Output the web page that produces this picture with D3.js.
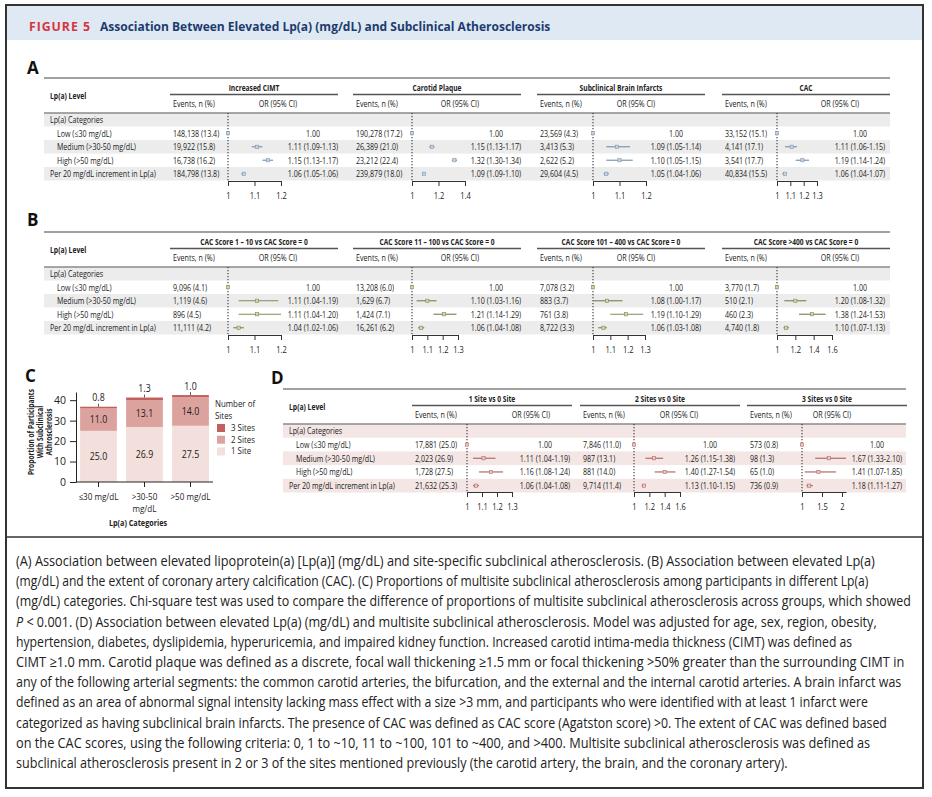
<!DOCTYPE html>
<html>
<head>
<meta charset="utf-8">
<script src="https://cdn.jsdelivr.net/npm/d3@7"></script>
<style>
  body { margin: 0; background: #fff; }
  svg { display: block; }
  text { font-family: "Open Sans", "Liberation Sans", sans-serif; }
</style>
</head>
<body>
<div id="chart"></div>
<script>
// ---- data ----
const rowLabels = ["Lp(a) Categories", "Low (≤30 mg/dL)", "Medium (>30-50 mg/dL)", "High (>50 mg/dL)", "Per 20 mg/dL increment in Lp(a)"]

// panel A
const aTitles = ["Increased CIMT", "Carotid Plaque", "Subclinical Brain Infarcts", "CAC"]
const aEvents = [
  ["148,138 (13.4)", "19,922 (15.8)", "16,738 (16.2)", "184,798 (13.8)"],
  ["190,278 (17.2)", "26,389 (21.0)", "23,212 (22.4)", "239,879 (18.0)"],
  ["23,569 (4.3)", "3,413 (5.3)", "2,622 (5.2)", "29,604 (4.5)"],
  ["33,152 (15.1)", "4,141 (17.1)", "3,541 (17.7)", "40,834 (15.5)"]
]
const aOR   = [[1.00, 1.11, 1.15, 1.06], [1.00, 1.15, 1.32, 1.09], [1.00, 1.09, 1.10, 1.05], [1.00, 1.11, 1.19, 1.06]]
const aLow  = [[1.00, 1.09, 1.13, 1.05], [1.00, 1.13, 1.30, 1.09], [1.00, 1.05, 1.05, 1.04], [1.00, 1.06, 1.14, 1.04]]
const aHigh = [[1.00, 1.13, 1.17, 1.06], [1.00, 1.17, 1.34, 1.10], [1.00, 1.14, 1.15, 1.06], [1.00, 1.15, 1.24, 1.07]]
const aTicks = [[1, 1.1, 1.2], [1, 1.2, 1.4], [1, 1.1, 1.2], [1, 1.1, 1.2, 1.3]]

// panel B
const bTitles = ["CAC Score 1 – 10 vs CAC Score = 0", "CAC Score 11 – 100 vs CAC Score = 0", "CAC Score 101 – 400 vs CAC Score = 0", "CAC Score >400 vs CAC Score = 0"]
const bEvents = [
  ["9,096 (4.1)", "1,119 (4.6)", "896 (4.5)", "11,111 (4.2)"],
  ["13,208 (6.0)", "1,629 (6.7)", "1,424 (7.1)", "16,261 (6.2)"],
  ["7,078 (3.2)", "883 (3.7)", "761 (3.8)", "8,722 (3.3)"],
  ["3,770 (1.7)", "510 (2.1)", "460 (2.3)", "4,740 (1.8)"]
]
const bOR   = [[1.00, 1.11, 1.11, 1.04], [1.00, 1.10, 1.21, 1.06], [1.00, 1.08, 1.19, 1.06], [1.00, 1.20, 1.38, 1.10]]
const bLow  = [[1.00, 1.04, 1.04, 1.02], [1.00, 1.03, 1.14, 1.04], [1.00, 1.00, 1.10, 1.03], [1.00, 1.08, 1.24, 1.07]]
const bHigh = [[1.00, 1.19, 1.20, 1.06], [1.00, 1.16, 1.29, 1.08], [1.00, 1.17, 1.29, 1.08], [1.00, 1.32, 1.53, 1.13]]
const bTicks = [[1, 1.1, 1.2], [1, 1.1, 1.2, 1.3], [1, 1.1, 1.2, 1.3], [1, 1.2, 1.4, 1.6]]

// panel C
const cCatLines = [["≤30 mg/dL"], [">30-50", "mg/dL"], [">50 mg/dL"]]
const cSite1 = [25.0, 26.9, 27.5]
const cSite2 = [11.0, 13.1, 14.0]
const cSite3 = [0.8, 1.3, 1.0]
const cYTicks = [0, 10, 20, 30, 40]
const cLegend = ["3 Sites", "2 Sites", "1 Site"]

// panel D
const dTitles = ["1 Site vs 0 Site", "2 Sites vs 0 Site", "3 Sites vs 0 Site"]
const dEvents = [
  ["17,881 (25.0)", "2,023 (26.9)", "1,728 (27.5)", "21,632 (25.3)"],
  ["7,846 (11.0)", "987 (13.1)", "881 (14.0)", "9,714 (11.4)"],
  ["573 (0.8)", "98 (1.3)", "65 (1.0)", "736 (0.9)"]
]
const dOR   = [[1.00, 1.11, 1.16, 1.06], [1.00, 1.26, 1.40, 1.13], [1.00, 1.67, 1.41, 1.18]]
const dLow  = [[1.00, 1.04, 1.08, 1.04], [1.00, 1.15, 1.27, 1.10], [1.00, 1.33, 1.07, 1.11]]
const dHigh = [[1.00, 1.19, 1.24, 1.08], [1.00, 1.38, 1.54, 1.15], [1.00, 2.10, 1.85, 1.27]]
const dTicks = [[1, 1.1, 1.2, 1.3], [1, 1.2, 1.4, 1.6], [1, 1.5, 2]]

const captionLines = [
  "(A) Association between elevated lipoprotein(a) [Lp(a)] (mg/dL) and site-specific subclinical atherosclerosis. (B) Association between elevated Lp(a)",
  "(mg/dL) and the extent of coronary artery calcification (CAC). (C) Proportions of multisite subclinical atherosclerosis among participants in different Lp(a)",
  "(mg/dL) categories. Chi-square test was used to compare the difference of proportions of multisite subclinical atherosclerosis across groups, which showed",
  "P < 0.001. (D) Association between elevated Lp(a) (mg/dL) and multisite subclinical atherosclerosis. Model was adjusted for age, sex, region, obesity,",
  "hypertension, diabetes, dyslipidemia, hyperuricemia, and impaired kidney function. Increased carotid intima-media thickness (CIMT) was defined as",
  "CIMT ≥1.0 mm. Carotid plaque was defined as a discrete, focal wall thickening ≥1.5 mm or focal thickening >50% greater than the surrounding CIMT in",
  "any of the following arterial segments: the common carotid arteries, the bifurcation, and the external and the internal carotid arteries. A brain infarct was",
  "defined as an area of abnormal signal intensity lacking mass effect with a size >3 mm, and participants who were identified with at least 1 infarct were",
  "categorized as having subclinical brain infarcts. The presence of CAC was defined as CAC score (Agatston score) >0. The extent of CAC was defined based",
  "on the CAC scores, using the following criteria: 0, 1 to ~10, 11 to ~100, 101 to ~400, and >400. Multisite subclinical atherosclerosis was defined as",
  "subclinical atherosclerosis present in 2 or 3 of the sites mentioned previously (the carotid artery, the brain, and the coronary artery)."
]
// how wide each caption line is set in the figure
const captionWidths = [860, 853, 895, 861, 837, 889, 886, 853, 872, 855, 772]

// ---- drawing ----
const width = 932
const height = 797

const svg = d3.select("#chart")
  .append("svg")
  .attr("width", width)
  .attr("height", height)

// squeeze text horizontally around its anchor x, the original font is a condensed one
function squeeze(sel, f) {
  sel.each(function () {
    const x = +this.getAttribute("x") || 0
    const prev = this.getAttribute("transform") || ""
    d3.select(this).attr("transform", `${prev} translate(${x},0) scale(${f},1) translate(${-x},0)`)
  })
}
function fit(sel, w) {
  sel.each(function () {
    squeeze(d3.select(this), w / this.getComputedTextLength())
  })
}

function txt(g, x, y, s, o = {}) {
  const t = g.append("text")
    .attr("x", x)
    .attr("y", y)
    .attr("dy", "0.35em")
    .attr("font-size", o.size || 9.6)
    .attr("font-weight", o.bold ? "bold" : null)
    .attr("text-anchor", o.anchor || "start")
    .attr("fill", o.fill || "#222")
    .text(s)
  squeeze(t, o.sq || 0.74)
  return t
}

// frame + header
svg.append("rect")
  .attr("x", 6).attr("y", 5).attr("width", 917).attr("height", 783)
  .attr("fill", "none").attr("stroke", "#333").attr("stroke-width", 2)
svg.append("rect")
  .attr("x", 7).attr("y", 6).attr("width", 915).attr("height", 34)
  .attr("fill", "#dfe9f3")
fit(svg.append("text").attr("x", 29).attr("y", 26).attr("dy", "0.35em")
  .attr("font-size", 13).attr("font-weight", "bold").attr("fill", "#d8333f")
  .attr("letter-spacing", 1)
  .text("FIGURE 5"), 62)
fit(svg.append("text").attr("x", 100).attr("y", 26).attr("dy", "0.35em")
  .attr("font-size", 13).attr("font-weight", "bold").attr("fill", "#1d3b6f")
  .text("Association Between Elevated Lp(a) (mg/dL) and Subclinical Atherosclerosis"), 451)

svg.append("line")
  .attr("x1", 6).attr("x2", 923).attr("y1", 537).attr("y2", 537)
  .attr("stroke", "#333").attr("stroke-width", 1.5)

// panel letters
;[["A", 27, 68], ["B", 27, 220], ["C", 25, 376], ["D", 271, 378]].forEach(([l, x, y]) => {
  svg.append("text").attr("x", x).attr("y", y).attr("dy", "0.35em")
    .attr("font-size", 17).attr("font-weight", "bold").attr("fill", "#111").text(l)
})

function forest(g, o) {
  const bandTop = o.top + 35
  const rowH = o.rowH
  const axisY = o.top + 103
  const rowC = i => bandTop + (i + 0.5) * rowH

  ;[0, 2, 4].forEach(i => {
    g.append("rect")
      .attr("x", o.left).attr("width", o.right - o.left)
      .attr("y", bandTop + i * rowH).attr("height", rowH)
      .attr("fill", o.shade)
  })
  g.append("line")
    .attr("x1", o.left).attr("x2", o.right).attr("y1", o.top).attr("y2", o.top)
    .attr("stroke", "#444").attr("stroke-width", 1.2)
  g.append("line")
    .attr("x1", o.left).attr("x2", o.right).attr("y1", bandTop).attr("y2", bandTop)
    .attr("stroke", "#8a8a8a").attr("stroke-width", 1.6)

  txt(g, o.left + 6, o.top + 18, "Lp(a) Level", { bold: true, size: 9.2 })
  rowLabels.forEach((l, i) => {
    txt(g, o.left + (i >= 1 && i <= 3 ? 13 : 6), rowC(i), l)
  })

  o.titles.forEach((title, j) => {
    const gx = o.gx[j]
    const ticks = o.ticks[j]
    const x = d3.scaleLinear()
      .domain([ticks[0], Math.max(ticks[ticks.length - 1], d3.max(o.hi[j]))])
      .range(o.ranges[j])

    txt(g, gx + o.gw / 2, o.top + 10, title, { bold: true, size: 9, anchor: "middle", sq: 0.74 })
    g.append("line")
      .attr("x1", gx).attr("x2", gx + o.gw).attr("y1", o.top + 16.5).attr("y2", o.top + 16.5)
      .attr("stroke", "#555").attr("stroke-width", 1.3)
    txt(g, gx + 3, o.top + 26, "Events, n (%)", { size: 9.4, sq: 0.76 })
    txt(g, o.orHeadX[j], o.top + 26, "OR (95% CI)", { size: 9.4, anchor: "middle", sq: 0.76 })

    g.append("line")
      .attr("x1", x(1)).attr("x2", x(1)).attr("y1", bandTop).attr("y2", axisY)
      .attr("stroke", "#333").attr("stroke-width", 1.1).attr("stroke-dasharray", "1.2,1.8")

    o.events[j].forEach((ev, k) => {
      const y = rowC(k + 1)
      txt(g, gx + 3, y, ev)
      const or = o.or[j][k], lo = o.lo[j][k], hi = o.hi[j][k]
      if (k > 0) {
        g.append("line")
          .attr("x1", x(lo)).attr("x2", x(hi)).attr("y1", y).attr("y2", y)
          .attr("stroke", o.color).attr("stroke-width", 1.2)
      }
      g.append("rect")
        .attr("x", x(or) - 1.6).attr("y", y - 1.6).attr("width", 3.2).attr("height", 3.2)
        .attr("fill", o.point).attr("stroke", o.color).attr("stroke-width", 0.6)
      const f = d3.format(".2f")
      const s = k === 0 ? f(or) : `${f(or)} (${f(lo)}-${f(hi)})`
      txt(g, o.orX[j], y, s, { anchor: "middle" })
    })

    const ax = g.append("g")
      .attr("transform", `translate(0,${axisY})`)
      .attr("color", "#333")
      .call(d3.axisBottom(x).tickValues(ticks).tickSize(5).tickSizeOuter(0).tickPadding(6)
        .tickFormat(d => String(d)))
    ax.select(".domain").attr("stroke-width", 1.1)
    ax.selectAll("text").attr("font-size", 9.4).attr("fill", "#222")
      .attr("font-family", "\"Open Sans\", sans-serif")
    squeeze(ax.selectAll("text"), 0.8)
  })
}

forest(svg.append("g"), {
  top: 78, left: 44, right: 890, rowH: 13.5, shade: "#ececec",
  color: "#7d96b0", point: "#c9d4df",
  titles: aTitles, events: aEvents, or: aOR, lo: aLow, hi: aHigh, ticks: aTicks,
  gx: [170, 353, 537, 722], gw: 168,
  ranges: [[228, 281], [412, 465], [593, 646], [777, 817]],
  orX: [313, 496, 676, 860], orHeadX: [278, 460, 636, 840]
})

forest(svg.append("g"), {
  top: 232, left: 44, right: 890, rowH: 13.5, shade: "#ececec",
  color: "#7f8b57", point: "#d5d8a6",
  titles: bTitles, events: bEvents, or: bOR, lo: bLow, hi: bHigh, ticks: bTicks,
  gx: [170, 353, 537, 722], gw: 168,
  ranges: [[228, 281], [412, 458], [593, 645], [777, 832]],
  orX: [313, 496, 676, 860], orHeadX: [278, 460, 636, 840]
})

forest(svg.append("g"), {
  top: 389, left: 283, right: 906, rowH: 13.7, shade: "#f3e6e5",
  color: "#b26a66", point: "#ecc9c6",
  titles: dTitles, events: dEvents, or: dOR, lo: dLow, hi: dHigh, ticks: dTicks,
  gx: [412, 580, 747], gw: 160,
  ranges: [[467, 512], [634, 680], [802, 846]],
  orX: [545, 710, 877], orHeadX: [531, 679, 832]
})

// ---- panel C : stacked bars ----
const cG = svg.append("g")
const cCats = cCatLines.map(l => l.join(" "))
const cColors = ["#f3dfdb", "#dca39e", "#c4605c"]
const cx = d3.scaleBand().domain(cCats).range([75.5, 213.5]).paddingInner(0.2).paddingOuter(0.1)
const cy = d3.scaleLinear().domain([0, 44]).range([482, 392])

const cRows = cCats.map((c, i) => ({ cat: c, s1: cSite1[i], s2: cSite2[i], s3: cSite3[i] }))
const cStack = d3.stack().keys(["s1", "s2", "s3"])(cRows)

cStack.forEach((layer, li) => {
  cG.append("g").selectAll("rect")
    .data(layer)
    .enter()
    .append("rect")
    .attr("x", d => cx(d.data.cat))
    .attr("width", cx.bandwidth())
    .attr("y", d => cy(d[1]))
    .attr("height", d => cy(d[0]) - cy(d[1]))
    .attr("fill", cColors[li])
})

// values in segments
cStack.slice(0, 2).forEach(layer => {
  layer.forEach(d => {
    txt(cG, cx(d.data.cat) + cx.bandwidth() / 2, cy((d[0] + d[1]) / 2), d3.format(".1f")(d[1] - d[0]),
      { size: 10.5, anchor: "middle", sq: 0.84 })
  })
})
// 3 sites values above bars
cStack[2].forEach(d => {
  const mx = cx(d.data.cat) + cx.bandwidth() / 2
  cG.append("line")
    .attr("x1", mx).attr("x2", mx).attr("y1", cy(d[1]) - 3).attr("y2", cy(d[1]))
    .attr("stroke", "#333").attr("stroke-width", 0.8)
  txt(cG, mx, cy(d[1]) - 9, d3.format(".1f")(d[1] - d[0]), { size: 10.5, anchor: "middle", sq: 0.84 })
})

const cyAxis = cG.append("g")
  .attr("transform", "translate(76,0)")
  .attr("color", "#222")
  .call(d3.axisLeft(cy).tickValues(cYTicks).tickSize(6).tickSizeOuter(0).tickPadding(4))
cyAxis.selectAll("text").attr("font-size", 10.5).attr("font-family", "\"Open Sans\", sans-serif").attr("fill", "#222")

const cxAxis = cG.append("g")
  .attr("transform", `translate(0,${cy(0)})`)
  .attr("color", "#222")
  .call(d3.axisBottom(cx).tickSize(5).tickSizeOuter(0).tickFormat(""))
cxAxis.select(".domain").attr("d", `M76,0H213`)

cCatLines.forEach((lines, i) => {
  lines.forEach((l, k) => {
    txt(cG, cx(cCats[i]) + cx.bandwidth() / 2, cy(0) + 14.5 + k * 12.5, l, { size: 9, anchor: "middle", sq: 0.9 })
  })
})
txt(cG, 138, 523, "Lp(a) Categories", { size: 9.4, bold: true, anchor: "middle", sq: 0.77 })

// y title (rotated, 3 lines)
;["Proportion of Participants", "With Subclinical", "Athrosclerosis"].forEach((l, k) => {
  const t = cG.append("text")
    .attr("transform", `translate(${31 + k * 9},432) rotate(-90)`)
    .attr("dy", "0.35em")
    .attr("text-anchor", "middle")
    .attr("font-size", 9.2).attr("font-weight", "bold").attr("fill", "#222")
    .text(l)
  squeeze(t, 0.72)
})

// legend
txt(cG, 215, 404, "Number of", { size: 8.6, sq: 0.92 })
txt(cG, 215, 416, "Sites", { size: 8.6, sq: 0.92 })
cLegend.forEach((l, k) => {
  cG.append("rect")
    .attr("x", 217).attr("y", 424 + k * 11.7).attr("width", 8).attr("height", 8)
    .attr("fill", cColors[2 - k])
  txt(cG, 231, 428 + k * 11.7, l, { size: 8.6, sq: 0.92 })
})

// ---- caption ----
const capG = svg.append("g")
captionLines.forEach((l, i) => {
  const t = capG.append("text")
    .attr("x", 16)
    .attr("y", 561 + i * 20.2)
    .attr("dy", "0.35em")
    .attr("font-size", 14.5)
    .attr("fill", "#222")
  if (l.startsWith("P <")) {
    t.append("tspan").attr("font-style", "italic").text("P")
    t.append("tspan").text(l.slice(1))
  } else {
    t.text(l)
  }
  fit(t, captionWidths[i])
})
</script>
</body>
</html>
